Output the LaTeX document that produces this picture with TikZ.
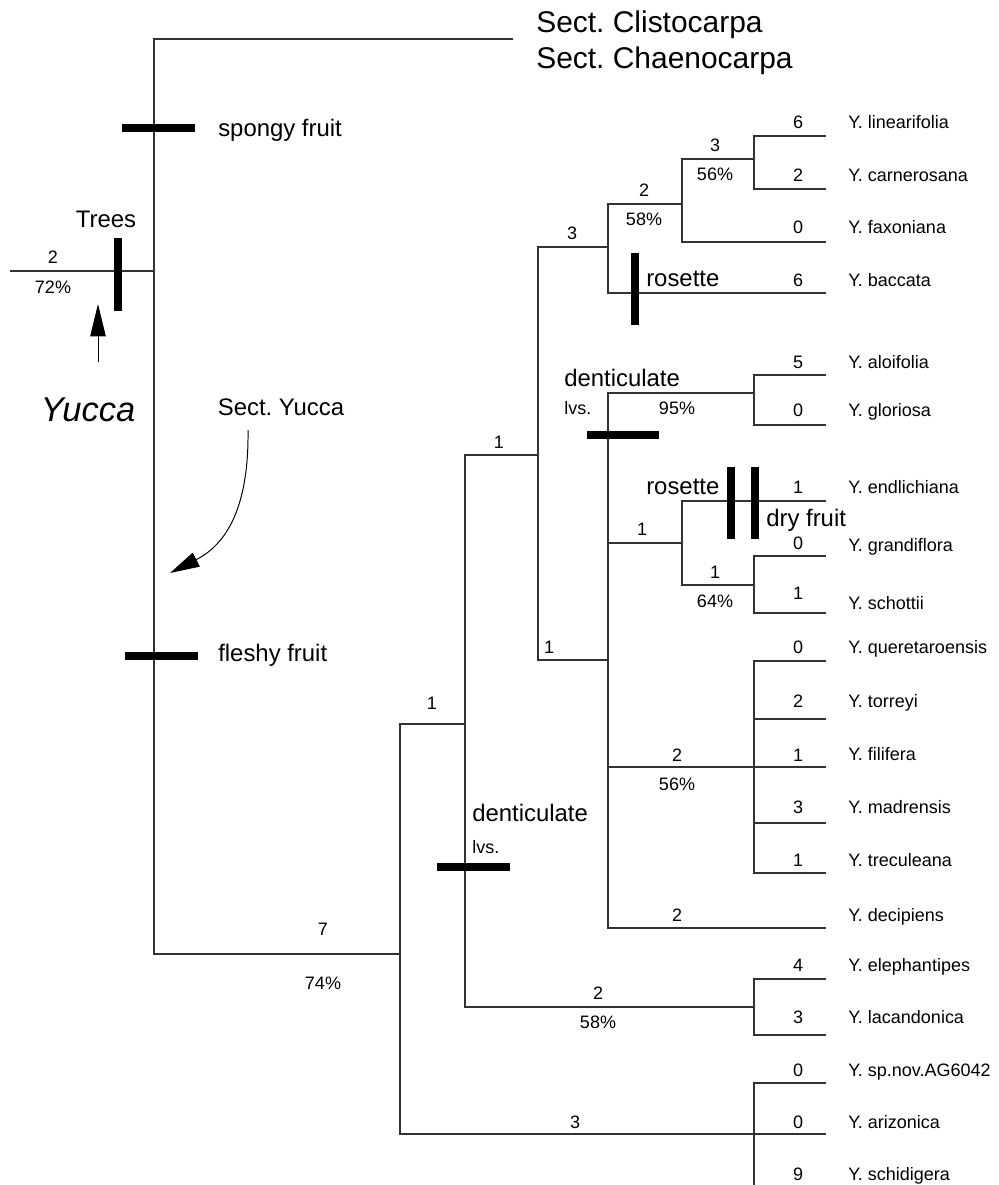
\documentclass[tikz,border=0pt]{standalone}
\usepackage{fontspec}
\setmainfont{Liberation Sans}
\usetikzlibrary{arrows.meta}
\newcommand{\smallsz}{\fontsize{12.8}{15}\selectfont}
\newcommand{\midsz}{\fontsize{17}{20}\selectfont}
\newcommand{\bigsz}{\fontsize{21.3}{25}\selectfont}
\frenchspacing
\begin{document}
\begin{tikzpicture}[x=0.025cm,y=-0.025cm]
	\tikzstyle{every node}+=[inner sep=0pt]
	\tikzstyle{branch}=[line width=0.9pt, draw=black!80]
	\tikzstyle{trbar}=[line width=5.2pt]
	\tikzstyle{leaf}=[anchor=mid west, font=\smallsz, yshift=-2pt]
	\tikzstyle{cnt}=[anchor=mid, font=\smallsz, yshift=-2pt]
	\tikzstyle{trait}=[anchor=mid west, font=\midsz, yshift=-3.5pt]
	\tikzstyle{sectname}=[anchor=mid west, font=\bigsz, yshift=-5pt]
	\useasboundingbox (0,0) rectangle (999,1185);
	% internal nodes
	\coordinate (root) at (10,271);
	\coordinate (R) at (154,271);
	\coordinate (sect) at (513,39);
	\coordinate (A) at (400,954);
	\coordinate (B) at (465,724);
	\coordinate (C) at (538,455);
	\coordinate (D) at (608,247);
	\coordinate (G) at (682,204);
	\coordinate (H) at (754,159);
	\coordinate (F) at (608,660);
	\coordinate (I) at (754,393);
	\coordinate (J) at (682,543);
	\coordinate (L) at (754,585);
	\coordinate (K) at (754,767);
	\coordinate (E) at (754,1007);
	\coordinate (Z) at (754,1134);
	\coordinate (zend) at (754,1185);
	% tips
	\coordinate (lin) at (826,136);
	\coordinate (car) at (826,189);
	\coordinate (fax) at (826,242);
	\coordinate (bac) at (826,293);
	\coordinate (alo) at (826,375);
	\coordinate (glo) at (826,425);
	\coordinate (end) at (826,501);
	\coordinate (gra) at (826,556);
	\coordinate (sch) at (826,613);
	\coordinate (que) at (826,661);
	\coordinate (tor) at (826,719);
	\coordinate (fil) at (826,767);
	\coordinate (mad) at (826,823);
	\coordinate (tre) at (826,873);
	\coordinate (dec) at (826,928);
	\coordinate (ele) at (826,979);
	\coordinate (lac) at (826,1035);
	\coordinate (spn) at (826,1083);
	\coordinate (ari) at (826,1134);
	% branches
	\draw [branch] (root) -- (R);
	\draw [branch] (R) |- (sect);
	\draw [branch] (R) |- (A);
	\draw [branch] (A) |- (B);
	\draw [branch] (A) |- (Z);
	\draw [branch] (B) |- (C);
	\draw [branch] (B) |- (E);
	\draw [branch] (C) |- (D);
	\draw [branch] (C) |- (F);
	\draw [branch] (D) |- (G);
	\draw [branch] (D) |- (bac);
	\draw [branch] (G) |- (H);
	\draw [branch] (G) |- (fax);
	\draw [branch] (H) |- (lin);
	\draw [branch] (H) |- (car);
	\draw [branch] (F) |- (I);
	\draw [branch] (F) |- (J);
	\draw [branch] (F) |- (K);
	\draw [branch] (F) |- (dec);
	\draw [branch] (I) |- (alo);
	\draw [branch] (I) |- (glo);
	\draw [branch] (J) |- (end);
	\draw [branch] (J) |- (L);
	\draw [branch] (L) |- (gra);
	\draw [branch] (L) |- (sch);
	\draw [branch] (K) |- (que);
	\draw [branch] (K) |- (tor);
	\draw [branch] (K) -- (fil);
	\draw [branch] (K) |- (mad);
	\draw [branch] (K) |- (tre);
	\draw [branch] (E) |- (ele);
	\draw [branch] (E) |- (lac);
	\draw [branch] (Z) |- (spn);
	\draw [branch] (Z) -- (ari);
	\draw [branch] (Z) -- (zend);
	% branch lengths and support
	\node [cnt] (bl-root) at (53,257) {2};
	\node [cnt] (bs-root) at (53,287) {72\%};
	\node [cnt] (bl-A) at (323,929) {7};
	\node [cnt] (bs-A) at (323,983) {74\%};
	\node [cnt] (bl-B) at (432,703) {1};
	\node [cnt] (bl-C) at (499,442) {1};
	\node [cnt] (bl-D) at (572,233) {3};
	\node [cnt] (bl-G) at (644,190) {2};
	\node [cnt] (bs-G) at (644,219) {58\%};
	\node [cnt] (bl-H) at (715,145) {3};
	\node [cnt] (bs-H) at (715,174) {56\%};
	\node [cnt] (bl-F) at (549,647) {1};
	\node [cnt] (bs-I) at (677,408) {95\%};
	\node [cnt] (bl-J) at (642,529) {1};
	\node [cnt] (bl-L) at (715,572) {1};
	\node [cnt] (bs-L) at (715,601) {64\%};
	\node [cnt] (bl-K) at (677,755) {2};
	\node [cnt] (bs-K) at (677,784) {56\%};
	\node [cnt] (bl-dec) at (677,915) {2};
	\node [cnt] (bl-E) at (598,993) {2};
	\node [cnt] (bs-E) at (598,1022) {58\%};
	\node [cnt] (bl-Z) at (575,1122) {3};
	% tip counts
	\node [cnt] (n-lin) at (798,122) {6};
	\node [cnt] (n-car) at (798,175) {2};
	\node [cnt] (n-fax) at (798,227) {0};
	\node [cnt] (n-bac) at (798,280) {6};
	\node [cnt] (n-alo) at (798,362) {5};
	\node [cnt] (n-glo) at (798,410) {0};
	\node [cnt] (n-end) at (798,487) {1};
	\node [cnt] (n-gra) at (798,543) {0};
	\node [cnt] (n-sch) at (798,593) {1};
	\node [cnt] (n-que) at (798,647) {0};
	\node [cnt] (n-tor) at (798,701) {2};
	\node [cnt] (n-fil) at (798,755) {1};
	\node [cnt] (n-mad) at (798,807) {3};
	\node [cnt] (n-tre) at (798,860) {1};
	\node [cnt] (n-ele) at (798,965) {4};
	\node [cnt] (n-lac) at (798,1017) {3};
	\node [cnt] (n-spn) at (798,1070) {0};
	\node [cnt] (n-ari) at (798,1122) {0};
	\node [cnt] (n-sci) at (798,1174) {9};
	% taxa
	\node [leaf] (t-lin) at (848,122) {Y. linearifolia};
	\node [leaf] (t-car) at (848,175) {Y. carnerosana};
	\node [leaf] (t-fax) at (848,227) {Y. faxoniana};
	\node [leaf] (t-bac) at (848,280) {Y. baccata};
	\node [leaf] (t-alo) at (848,362) {Y. aloifolia};
	\node [leaf] (t-glo) at (848,410) {Y. gloriosa};
	\node [leaf] (t-end) at (848,487) {Y. endlichiana};
	\node [leaf] (t-gra) at (848,545) {Y. grandiflora};
	\node [leaf] (t-sch) at (848,603) {Y. schottii};
	\node [leaf] (t-que) at (848,647) {Y. queretaroensis};
	\node [leaf] (t-tor) at (848,701) {Y. torreyi};
	\node [leaf] (t-fil) at (848,754) {Y. filifera};
	\node [leaf] (t-mad) at (848,807) {Y. madrensis};
	\node [leaf] (t-tre) at (848,860) {Y. treculeana};
	\node [leaf] (t-dec) at (848,915) {Y. decipiens};
	\node [leaf] (t-ele) at (848,965) {Y. elephantipes};
	\node [leaf] (t-lac) at (848,1017) {Y. lacandonica};
	\node [leaf] (t-spn) at (848,1070) {Y. sp.nov.AG6042};
	\node [leaf] (t-ari) at (848,1122) {Y. arizonica};
	\node [leaf] (t-sci) at (848,1174) {Y. schidigera};
	\node [sectname] (clisto) at (536,22) {Sect. Clistocarpa};
	\node [sectname] (chaeno) at (536,58) {Sect. Chaenocarpa};
	% character changes
	\draw [trbar] (122,128) -- (195,128);
	\node [trait] (spongy) at (218,128) {spongy fruit};
	\draw [trbar] (118,238) -- (118,311);
	\node [trait, anchor=mid] (trees) at (106,219) {Trees};
	\draw [trbar] (125,656) -- (198,656);
	\node [trait] (fleshy) at (218,653) {fleshy fruit};
	\draw [trbar] (635,253) -- (635,325);
	\node [trait] (ros1) at (646,278) {rosette};
	\draw [trbar] (587,435) -- (659,435);
	\node [trait] (dent1) at (564,378) {denticulate};
	\node [leaf] (lvs1) at (564,408) {lvs.};
	\draw [trbar] (731,467) -- (731,539);
	\draw [trbar] (755,467) -- (755,539);
	\node [trait] (ros2) at (646,486) {rosette};
	\node [trait] (dry) at (766,518) {dry fruit};
	\draw [trbar] (437,867) -- (510,867);
	\node [trait] (dent2) at (472,813) {denticulate};
	\node [leaf] (lvs2) at (472,847) {lvs.};
	% genus and section
	\node [anchor=mid, font=\fontsize{24.5}{28}\selectfont\itshape, yshift=-5.5pt] (yucca) at (88,410) {Yucca};
	\coordinate (ya0) at (98,362);
	\coordinate (ya1) at (98,304);
	\draw [line width=0.7pt, -{Triangle[length=23pt,width=11pt]}] (ya0) -- (ya1);
	\node [trait, anchor=mid] (sectyuc) at (281,407) {Sect. Yucca};
	\coordinate (sa0) at (248,430);
	\coordinate (sa1) at (170,573);
	\draw [line width=0.7pt, -{Triangle[length=21pt,width=11pt]}] (sa0) .. controls (249,510) and (225,545) .. (sa1);
\end{tikzpicture}
\end{document}
